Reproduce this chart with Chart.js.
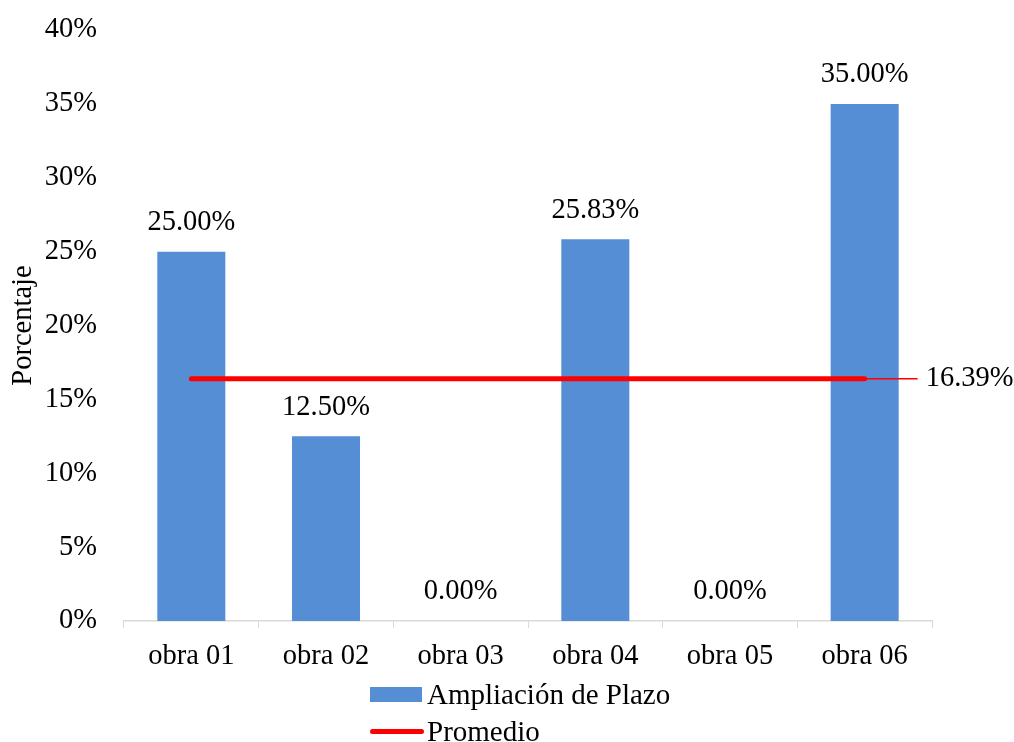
<!DOCTYPE html>
<html>
<head>
<meta charset="utf-8">
<script src="https://cdn.jsdelivr.net/npm/chart.js@4/dist/chart.umd.min.js"></script>
<style>
  body { margin: 0; background: #fff; }
  #wrap { position: relative; width: 1014px; height: 742px; }
  .leg { position: absolute; font-family: "Liberation Serif", "Times New Roman", serif; font-size: 29px; color: #000; line-height: 30px; }
  .sw { position: absolute; }
</style>
</head>
<body>
<div id="wrap">
  <canvas id="chart"></canvas>
  <div class="sw" style="left:370px; top:687px; width:52px; height:15px; background:#558ED5;"></div>
  <div class="leg" style="left:427px; top:679px;">Ampliación de Plazo</div>
  <div class="sw" style="left:370px; top:729px; width:54px; height:5px; background:#FF0000; border-radius:3px;"></div>
  <div class="leg" style="left:427px; top:716px;">Promedio</div>
</div>
<script>
'use strict';

// chart data
var obras = ['obra 01', 'obra 02', 'obra 03', 'obra 04', 'obra 05', 'obra 06'];
var ampliacion = [25.00, 12.50, 0.00, 25.83, 0.00, 35.00];
var promedio = 16.39;
var yTicks = [0, 5, 10, 15, 20, 25, 30, 35, 40];

var serif = '"Liberation Serif", "Times New Roman", serif';
var fontSize = 28.5;
var promedioLine = obras.map(function () { return promedio; });

//draws value labels above bars and the label for the average line
var labelPlugin = {
	id: 'labels',
	afterDatasetsDraw: function (chart) {
		var ctx = chart.ctx;
		ctx.save();
		ctx.font = fontSize + 'px ' + serif;
		ctx.fillStyle = '#000';
		ctx.textAlign = 'center';
		ctx.textBaseline = 'middle';
		var bars = chart.getDatasetMeta(0).data;
		bars.forEach(function (bar, i) {
			ctx.fillText(ampliacion[i].toFixed(2) + '%', bar.x, bar.y - 29);
		});
		var pts = chart.getDatasetMeta(1).data;
		var last = pts[pts.length - 1];
		ctx.strokeStyle = '#FF0000';
		ctx.lineWidth = 1.5;
		ctx.beginPath();
		ctx.moveTo(last.x, last.y);
		ctx.lineTo(last.x + 53, last.y);
		ctx.stroke();
		ctx.textAlign = 'left';
		ctx.fillText(promedio.toFixed(2) + '%', last.x + 61, last.y);
		ctx.restore();
	}
};

var config = {
	type: 'bar',
	data: {
		labels: obras,
		datasets: [{
			label: 'Ampliación de Plazo',
			data: ampliacion,
			backgroundColor: '#558ED5',
			barPercentage: 0.505,
			categoryPercentage: 1,
			order: 1
		}, {
			type: 'line',
			label: 'Promedio',
			data: promedioLine,
			borderColor: '#FF0000',
			borderWidth: 5,
			borderCapStyle: 'round',
			pointRadius: 0,
			fill: false,
			order: 0
		}]
	},
	options: {
		responsive: true,
		maintainAspectRatio: false,
		animation: false,
		layout: { padding: { top: 30, right: 82, left: 0, bottom: 0 } },
		plugins: {
			legend: { display: false },
			tooltip: { enabled: false }
		},
		scales: {
			x: {
				grid: { drawOnChartArea: false, drawTicks: true, tickLength: 7, color: '#D9D9D9', offset: true },
				border: { display: true, color: '#D9D9D9', width: 1.5 },
				ticks: { color: '#000', font: { family: serif, size: fontSize }, padding: 11 },
				afterFit: function (s) { s.height = 121; }
			},
			y: {
				min: 0,
				max: 40,
				afterBuildTicks: function (s) {
					s.ticks = yTicks.map(function (v) { return { value: v }; });
				},
				grid: { display: false },
				border: { display: false },
				ticks: {
					color: '#000',
					font: { family: serif, size: fontSize },
					padding: 19,
					callback: function (v) { return v + '%'; }
				},
				title: {
					display: true,
					text: 'Porcentaje',
					color: '#000',
					font: { family: serif, size: fontSize },
					padding: { top: 6, bottom: 0 }
				},
				afterFit: function (s) {
					s.width = 124;
					s.paddingTop = 0;
					s.paddingBottom = 0;
				}
			}
		}
	},
	plugins: [labelPlugin]
};

var ctx = document.getElementById('chart').getContext('2d');
window.myChart = new Chart(ctx, config);
</script>
</body>
</html>
